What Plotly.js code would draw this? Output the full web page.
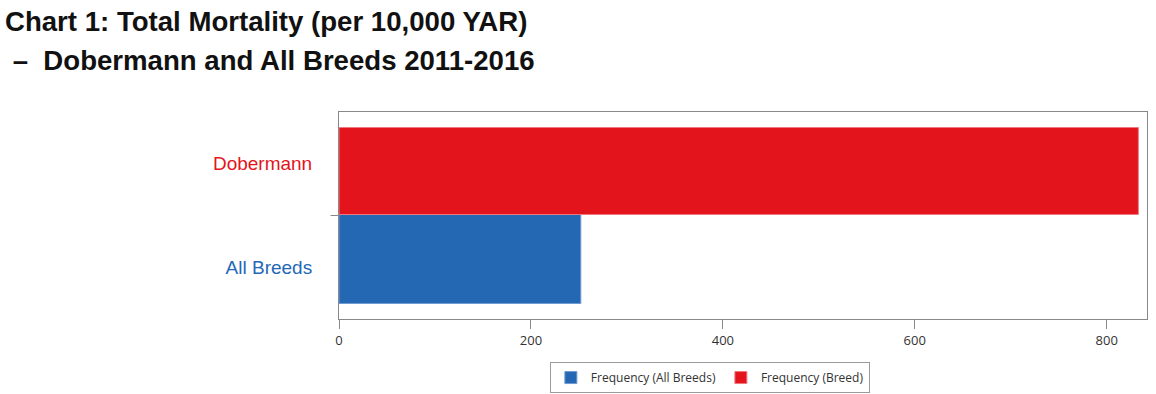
<!DOCTYPE html>
<html>
<head>
<meta charset="utf-8">
<script src="https://cdn.plot.ly/plotly-3.0.1.min.js"></script>
<style>html,body{margin:0;padding:0;background:#fff;}#chart{width:1156px;height:394px;}</style>
</head>
<body>
<div id="chart"></div>
<script>
const categories = ['All Breeds', 'Dobermann'];
const seriesNames = ['Frequency (All Breeds)', 'Frequency (Breed)'];
const allBreedsValues = [252];
const breedValues = [833];
const xTickValues = [0, 200, 400, 600, 800];
const labelColors = ['#2468B8', '#E3141C'];
const titleLines = ['Chart 1: Total Mortality (per 10,000 YAR)', ' –  Dobermann and All Breeds 2011-2016'];

const traces = [
  {
    type: 'bar', orientation: 'h', name: seriesNames[0],
    y: [categories[0]], x: allBreedsValues,
    offset: -0.35, width: 0.86,
    marker: {color: '#2468B4', line: {color: '#6F9BD3', width: 1}},
    hoverinfo: 'x+name'
  },
  {
    type: 'bar', orientation: 'h', name: seriesNames[1],
    y: [categories[1]], x: breedValues,
    offset: -0.49, width: 0.84,
    marker: {color: '#E3141C', line: {color: '#EE7A80', width: 1}},
    hoverinfo: 'x+name'
  }
];

const titleFont = {family: 'Liberation Sans, Arial, sans-serif', size: 27.6, color: '#111'};

const layout = {
  width: 1156, height: 394,
  paper_bgcolor: '#fff', plot_bgcolor: '#fff',
  margin: {l: 339, r: 9, t: 112, b: 75, autoexpand: false},
  font: {family: 'Liberation Sans, Arial, sans-serif', color: '#333'},
  title: {
    text: '<b>' + titleLines[0] + '</b>',
    x: 0.0043, xanchor: 'left', xref: 'container', y: 0.947, yanchor: 'middle', yref: 'container',
    font: titleFont
  },
  annotations: [
    {text: '<b>' + titleLines[1] + '</b>', xref: 'paper', yref: 'paper',
     x: -0.416, xanchor: 'left', y: 1.251, yanchor: 'middle', showarrow: false, font: titleFont}
  ],
  barmode: 'overlay',
  showlegend: true,
  legend: {
    orientation: 'h', x: 0.459, xanchor: 'center', y: -0.208, yanchor: 'top',
    bordercolor: '#9a9a9a', borderwidth: 1, bgcolor: '#fff',
    font: {family: 'Open Sans, sans-serif', size: 12, color: '#333'},
    traceorder: 'normal', itemwidth: 30
  },
  xaxis: {
    range: [0, 842], tickvals: xTickValues, ticktext: xTickValues.map(String),
    showgrid: false, zeroline: false,
    showline: true, mirror: true, linecolor: '#888', linewidth: 1,
    ticks: 'outside', ticklen: 9, tickcolor: '#888',
    tickfont: {family: 'Open Sans, sans-serif', size: 13, color: '#333'},
    fixedrange: true
  },
  yaxis: {
    type: 'category', categoryorder: 'array', categoryarray: categories,
    range: [-0.5, 1.5],
    tickvals: categories,
    ticktext: categories.map((c, i) => '<span style="color:' + labelColors[i] + '">' + c + '</span>'),
    showgrid: false, zeroline: false,
    showline: true, mirror: true, linecolor: '#888', linewidth: 1,
    ticks: '', ticklabelstandoff: 22,
    tickfont: {family: 'Liberation Sans, Arial, sans-serif', size: 19},
    fixedrange: true
  },
  shapes: [
    {type: 'line', xref: 'paper', yref: 'y', x0: -0.0105, x1: 0, y0: 0.5, y1: 0.5,
     line: {color: '#888', width: 1}}
  ]
};

Plotly.newPlot('chart', traces, layout, {displayModeBar: false, staticPlot: true});
</script>
</body>
</html>
